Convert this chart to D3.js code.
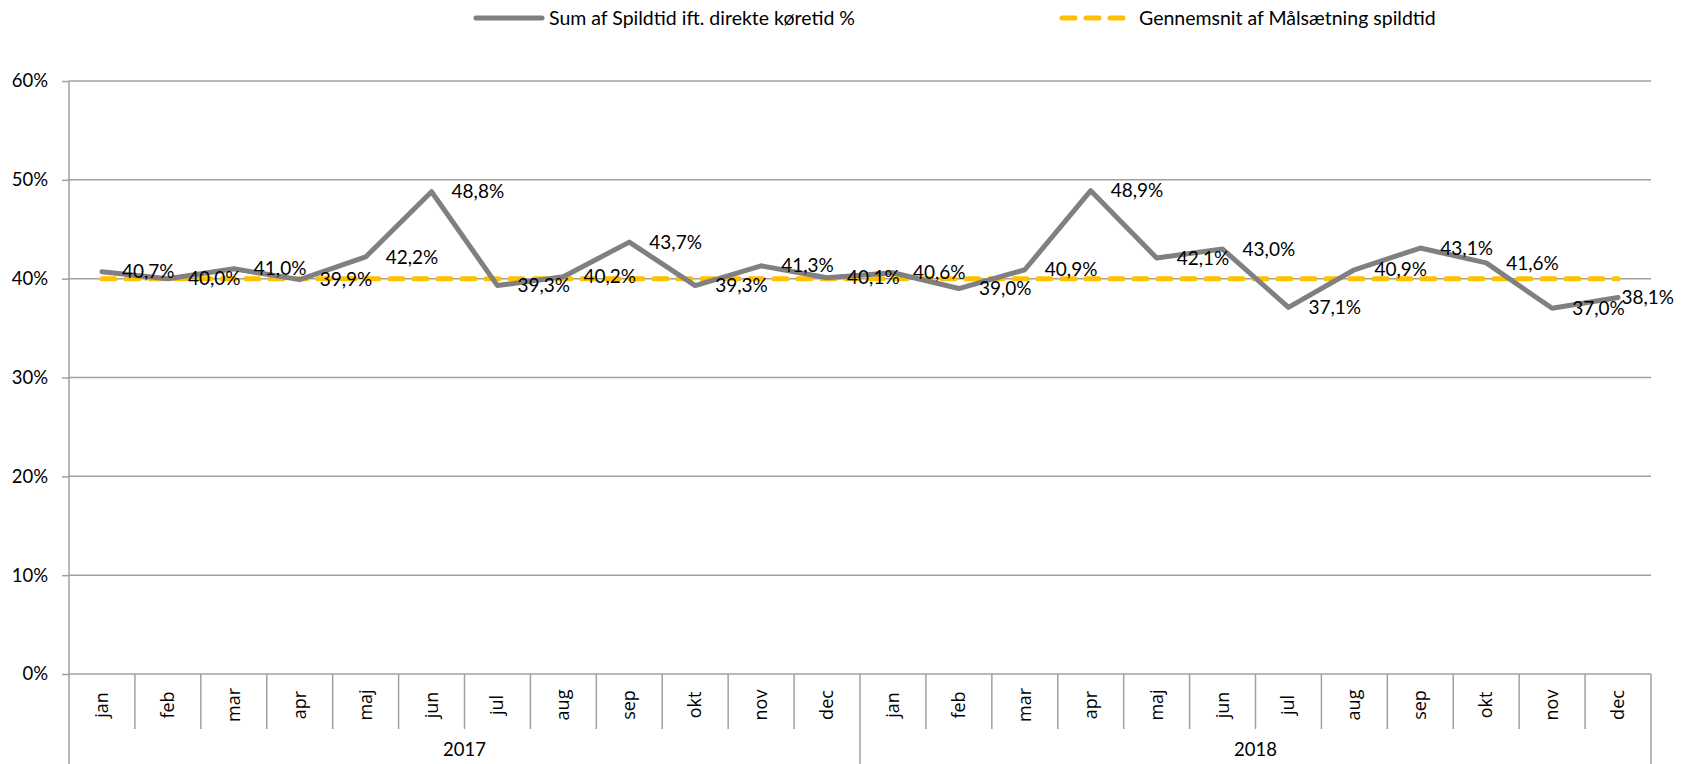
<!DOCTYPE html>
<html>
<head>
<meta charset="utf-8">
<script src="https://cdn.jsdelivr.net/npm/d3@7"></script>
<style>
  html, body { margin: 0; padding: 0; background: #fff; }
  svg { display: block; }
</style>
</head>
<body>
<svg id="chart" width="1688" height="764"></svg>
<script>
const years = ["2017", "2018"];
const months = ["jan","feb","mar","apr","maj","jun","jul","aug","sep","okt","nov","dec"];
const spildtid = [40.7, 40.0, 41.0, 39.9, 42.2, 48.8, 39.3, 40.2, 43.7, 39.3, 41.3, 40.1,
                  40.6, 39.0, 40.9, 48.9, 42.1, 43.0, 37.1, 40.9, 43.1, 41.6, 37.0, 38.1];
const maalsaetning = [40, 40, 40, 40, 40, 40, 40, 40, 40, 40, 40, 40,
                      40, 40, 40, 40, 40, 40, 40, 40, 40, 40, 40, 40];
const yTicks = [0, 10, 20, 30, 40, 50, 60];
const seriesNames = ["Sum af Spildtid ift. direkte køretid %", "Gennemsnit af Målsætning spildtid"];

(function() {
const W = 1688, H = 764;
const pLeft = 69, pRight = 1651, pTop = 81, pBottom = 674;
const labelFont = "Lato, 'Open Sans', sans-serif";
const monthFont = "'Open Sans', sans-serif";

const keys = [];
years.forEach(yr => months.forEach(m => keys.push(yr + "-" + m)));

const x = d3.scaleBand().domain(keys).range([pLeft, pRight]).padding(0);
const y = d3.scaleLinear().domain([0, 60]).range([pBottom, pTop]);
const cx = k => x(k) + x.bandwidth() / 2;

const svg = d3.select("#chart");

// gridlines
svg.append("g").selectAll("line").data(yTicks).join("line")
  .attr("x1", pLeft).attr("x2", pRight)
  .attr("y1", d => y(d)).attr("y2", d => y(d))
  .attr("stroke", "#a0a0a0").attr("stroke-width", 1.5);

// y axis
const yAxis = d3.axisLeft(y).tickValues(yTicks).tickSize(7).tickPadding(14)
  .tickFormat(d => d + "%");
const gy = svg.append("g").attr("transform", `translate(${pLeft},0)`).call(yAxis);
gy.select(".domain").remove();
gy.selectAll(".tick line").attr("stroke", "#a0a0a0").attr("stroke-width", 1.5);
gy.selectAll(".tick text").attr("font-family", labelFont).attr("font-size", 18.5).attr("fill", "#000");
svg.append("line").attr("x1", pLeft).attr("x2", pLeft).attr("y1", pTop).attr("y2", H)
  .attr("stroke", "#a0a0a0").attr("stroke-width", 1.5);

// category separators
const bounds = keys.map((k, i) => i).slice(1);
svg.append("g").selectAll("line").data(bounds).join("line")
  .attr("x1", i => x(keys[i])).attr("x2", i => x(keys[i]))
  .attr("y1", pBottom).attr("y2", i => (i % 12 === 0) ? H : 729)
  .attr("stroke", "#a0a0a0").attr("stroke-width", 1.5);
svg.append("line").attr("x1", pRight).attr("x2", pRight).attr("y1", pBottom).attr("y2", H)
  .attr("stroke", "#a0a0a0").attr("stroke-width", 1.5);

// month labels
svg.append("g").selectAll("text").data(keys).join("text")
  .attr("transform", k => `translate(${cx(k) + 6},705) rotate(-90)`)
  .attr("text-anchor", "middle")
  .attr("font-family", monthFont).attr("font-size", 18).attr("fill", "#000")
  .text(k => k.split("-")[1]);

// year labels
svg.append("g").selectAll("text").data(years).join("text")
  .attr("x", (yr, i) => (x(keys[i * 12]) + x(keys[i * 12 + 11]) + x.bandwidth()) / 2)
  .attr("y", 756)
  .attr("text-anchor", "middle")
  .attr("font-family", labelFont).attr("font-size", 18.5).attr("fill", "#000")
  .text(d => d);

// target line
const line = d3.line().x((d, i) => cx(keys[i])).y(d => y(d));
svg.append("path").datum(maalsaetning)
  .attr("d", line).attr("fill", "none")
  .attr("stroke", "#FFC000").attr("stroke-width", 5)
  .attr("stroke-dasharray", "13,11").attr("stroke-linecap", "round");

// actual line
svg.append("path").datum(spildtid)
  .attr("d", line).attr("fill", "none")
  .attr("stroke", "#808080").attr("stroke-width", 5)
  .attr("stroke-linejoin", "round").attr("stroke-linecap", "round");

// data labels
const lbl = svg.append("g").selectAll("text").data(spildtid).join("text")
  .attr("x", (d, i) => cx(keys[i]) + 20)
  .attr("y", d => y(d))
  .attr("dy", "0.35em")
  .attr("font-family", labelFont).attr("font-size", 19).attr("fill", "#000")
  .text(d => d.toFixed(1).replace(".", ",") + "%");
lbl.each(function() {
  const w = this.getComputedTextLength();
  const xx = +this.getAttribute("x");
  if (xx + w > W - 14) this.setAttribute("x", W - 14 - w);
});

// legend
const leg = [
  {name: seriesNames[0], x1: 476, x2: 542, color: "#808080", dash: null, tx: 549},
  {name: seriesNames[1], x1: 1062, x2: 1128, color: "#FFC000", dash: "13,11", tx: 1139}
];
const lg = svg.append("g").selectAll("g").data(leg).join("g");
lg.append("line").attr("x1", d => d.x1).attr("x2", d => d.x2).attr("y1", 18).attr("y2", 18)
  .attr("stroke", d => d.color).attr("stroke-width", 5).attr("stroke-linecap", "round")
  .attr("stroke-dasharray", d => d.dash);
lg.append("text").attr("x", d => d.tx).attr("y", 18).attr("dy", "0.35em")
  .attr("font-family", labelFont).attr("font-size", 19.5).attr("fill", "#000")
  .text(d => d.name);
})();
</script>
</body>
</html>
